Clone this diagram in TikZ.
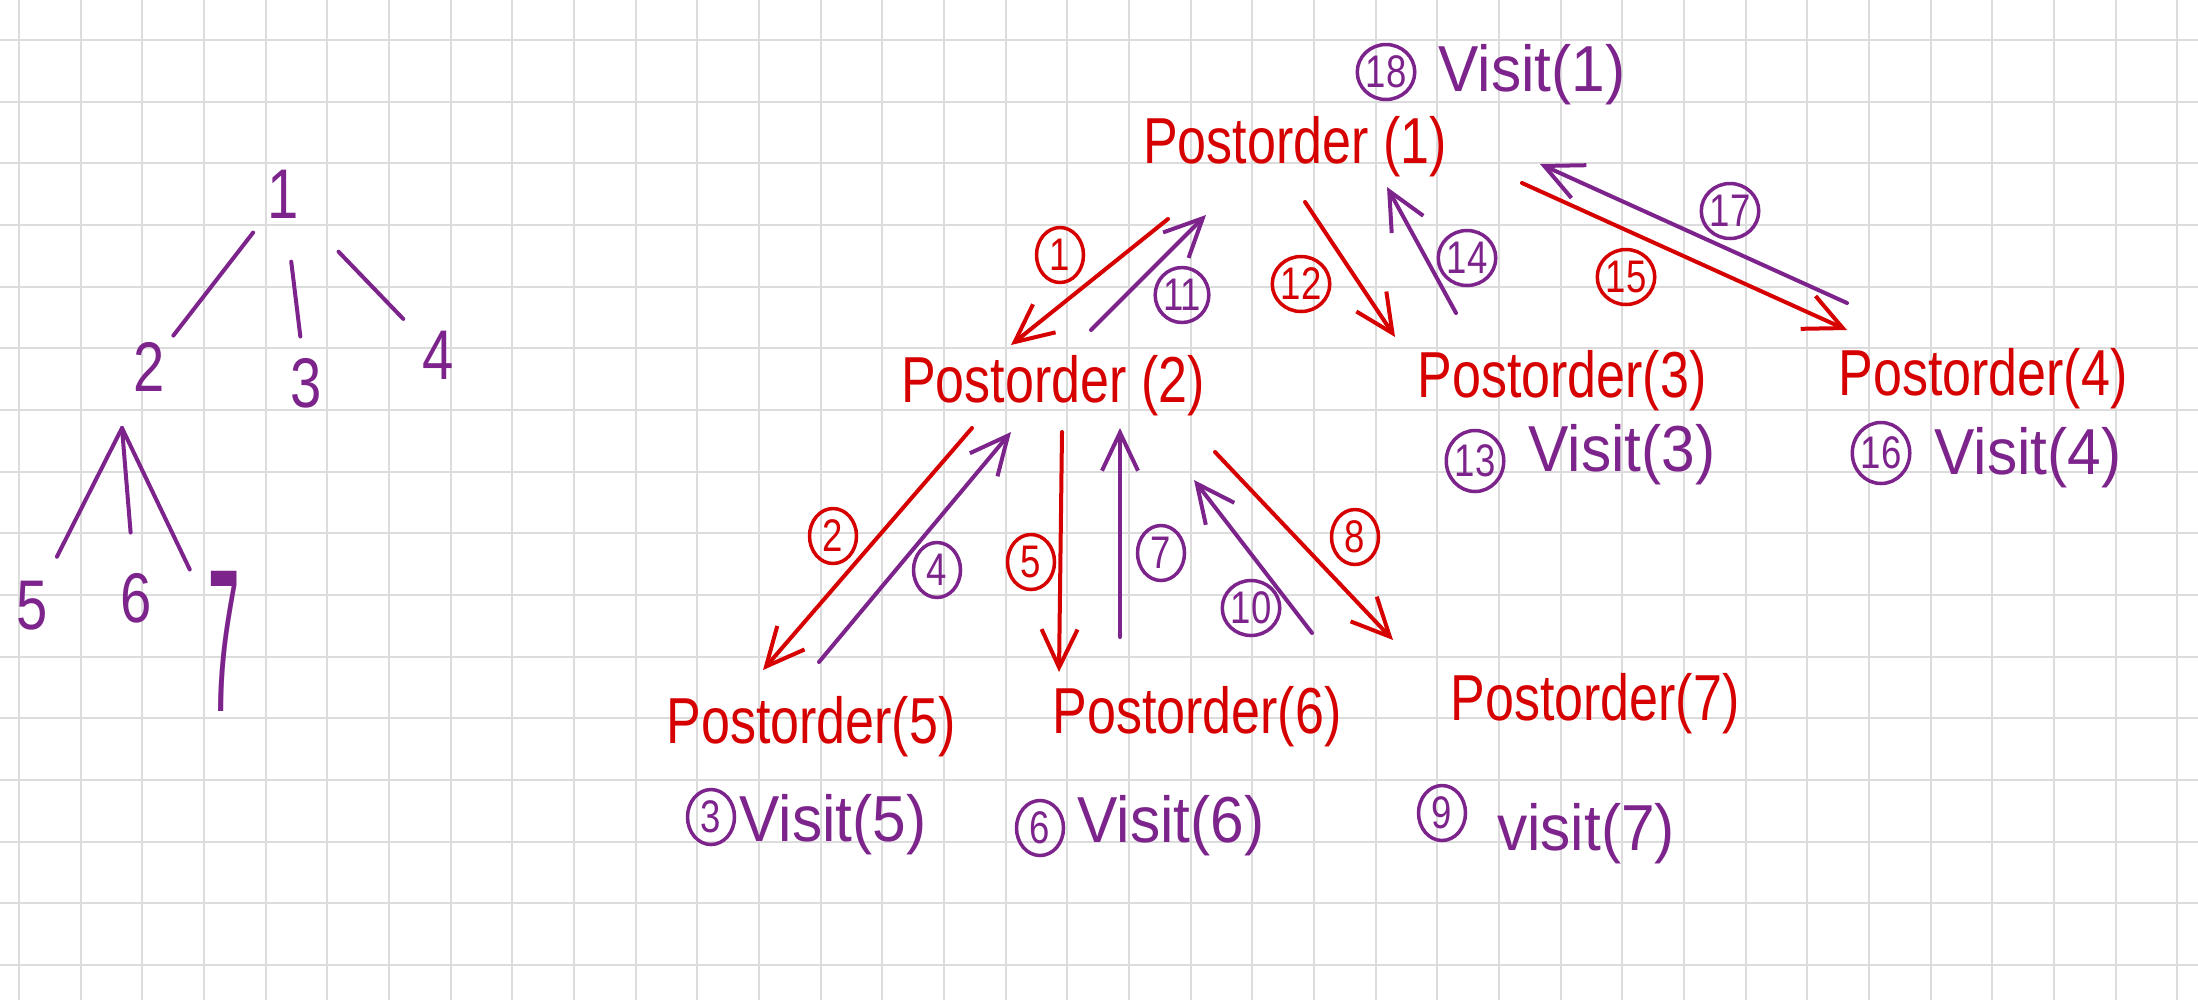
\documentclass[tikz,border=0pt]{standalone}
\usepackage{fontspec}
\newfontfamily\handfont[FakeStretch=0.8]{Liberation Sans}
\newfontfamily\visitfont[FakeStretch=0.93]{Liberation Sans}
\usepackage{tikz}
\usetikzlibrary{arrows.meta, calc, shapes.geometric, positioning}

\definecolor{inkred}{RGB}{214,0,0}
\definecolor{inkpurple}{RGB}{125,35,140}
\definecolor{gridgray}{RGB}{220,220,220}

\tikzset{
  gridline/.style={gridgray, line width=0.2mm},
  treenode/.style={text=inkpurple, font=\handfont\fontsize{20}{20}\selectfont, inner sep=0.8mm},
  treeedge/.style={inkpurple, line width=0.4mm, line cap=round},
  callnode/.style={text=inkred, font=\handfont\fontsize{18.5}{20}\selectfont, anchor=base, inner sep=0},
  visitnode/.style={text=inkpurple, font=\visitfont\fontsize{18.5}{20}\selectfont, anchor=base, inner sep=0},
  stepnum/.style={ellipse, draw, line width=0.35mm, minimum width=4.7mm, minimum height=5.5mm,
    inner sep=0, font=\handfont\fontsize{13}{13}\selectfont},
  redstep/.style={stepnum, inkred},
  purplestep/.style={stepnum, inkpurple},
  bigstep/.style={purplestep, minimum width=5.6mm, minimum height=6.1mm},
  callarrow/.style={->, inkred, line width=0.4mm, line cap=round},
  retarrow/.style={->, inkpurple, line width=0.4mm, line cap=round}
}

\begin{document}
\begin{tikzpicture}[x=0.1mm, y=-0.1mm, >={Straight Barb[length=3.8mm, width=3.6mm]}]
  \fill[white] (0,0) rectangle (2198,1000);
  \useasboundingbox (0,0) rectangle (2198,1000);

  \foreach \k in {0,...,35} {
      \draw[gridline] ({19+61.67*\k},0) -- ({19+61.67*\k},1000);
  };
  \foreach \k in {0,...,15} {
      \draw[gridline] (0,{40+61.67*\k}) -- (2198,{40+61.67*\k});
  };

  % the tree
  \node[treenode] (t1) at (283,194) {1};
  \node[treenode] (t2) at (149,367) {2};
  \node[treenode] (t3) at (306,383) {3};
  \node[treenode] (t4) at (438,355) {4};
  \node[treenode] (t5) at (32,606) {5};
  \node[treenode] (t6) at (136,598) {6};
  \node[treenode] (t7) at (224,641) {\scalebox{1}[2.9]{7}};
  \coordinate (t2fork) at (122,428);

  \draw[treeedge, shorten <=0.9mm] (t1) -- (t2);
  \draw[treeedge, shorten <=3.5mm, shorten >=1.3mm] (t1) -- (t3);
  \draw[treeedge, shorten <=4.5mm, shorten >=1.5mm] (t1) -- (t4);
  \draw[treeedge, shorten >=1.8mm] (t2fork) -- (t5);
  \draw[treeedge, shorten >=3.2mm] (t2fork) -- (t6);
  \draw[treeedge, shorten >=2.3mm] (t2fork) -- (t7);

  % the calls
  \node[callnode] (p1) at (1295,163) {Postorder (1)};
  \node[callnode] (p2) at (1053,402) {Postorder (2)};
  \node[callnode] (p3) at (1562,397) {Postorder(3)};
  \node[callnode] (p4) at (1983,395) {Postorder(4)};
  \node[callnode] (p5) at (811,743) {Postorder(5)};
  \node[callnode] (p6) at (1197,733) {Postorder(6)};
  \node[callnode] (p7) at (1595,720) {Postorder(7)};

  \node[purplestep] (s18) at (1386,72) {18};
  \node[visitnode] (v1) at (1532,91) {Visit(1)};
  \node[bigstep] (s13) at (1475,461) {13};
  \node[visitnode] (v3) at (1622,471) {Visit(3)};
  \node[bigstep] (s16) at (1881,453) {16};
  \node[visitnode] (v4) at (2028,474) {Visit(4)};
  \node[purplestep] (s3) at (711,817) {3};
  \node[visitnode] (v5) at (833,841) {Visit(5)};
  \node[purplestep] (s6) at (1040,828) {6};
  \node[visitnode] (v6) at (1171,842) {Visit(6)};
  \node[purplestep] (s9) at (1442,813) {9};
  \node[visitnode] (v7) at (1586,850) {visit(7)};

  \node[redstep] (n1) at (1060,255) {1};
  \node[redstep] (n2) at (833,536) {2};
  \node[purplestep] (n4) at (937,570) {4};
  \node[redstep] (n5) at (1031,562) {5};
  \node[purplestep] (n7) at (1161,553) {7};
  \node[redstep] (n8) at (1355,537) {8};
  \node[purplestep] (n10) at (1251,608) {10};
  \node[purplestep] (n11) at (1182,295) {11};
  \node[redstep] (n12) at (1301,284) {12};
  \node[purplestep] (n14) at (1467,258) {14};
  \node[redstep] (n15) at (1626,277) {15};
  \node[purplestep] (n17) at (1730,211) {17};

  \draw[callarrow] ([shift={(-127,56)}]p1.base) -- ([shift={(-42,-57)}]p2.base);
  \draw[retarrow] ([shift={(38,-72)}]p2.base) -- ([shift={(-89,52)}]p1.base);
  \draw[callarrow] ([shift={(10,39)}]p1.base) -- ([shift={(-167,-60)}]p3.base);
  \draw[retarrow] ([shift={(-106,-84)}]p3.base) -- ([shift={(92,24)}]p1.base);
  \draw[callarrow] ([shift={(227,20)}]p1.base) -- ([shift={(-136,-65)}]p4.base);
  \draw[retarrow] ([shift={(-136,-92)}]p4.base) -- ([shift={(245,1)}]p1.base);

  \draw[callarrow] ([shift={(-81,26)}]p2.base) -- ([shift={(-48,-73)}]p5.base);
  \draw[retarrow] ([shift={(8,-81)}]p5.base) -- ([shift={(-42,30)}]p2.base);
  \draw[callarrow] ([shift={(9,30)}]p2.base) -- ([shift={(-138,-61)}]p6.base);
  \draw[retarrow] ([shift={(-77,-96)}]p6.base) -- ([shift={(67,26)}]p2.base);
  \draw[callarrow] ([shift={(162,50)}]p2.base) -- ([shift={(-202,-80)}]p7.base);
  \draw[retarrow] ([shift={(-283,-87)}]p7.base) -- ([shift={(141,78)}]p2.base);
\end{tikzpicture}
\end{document}
